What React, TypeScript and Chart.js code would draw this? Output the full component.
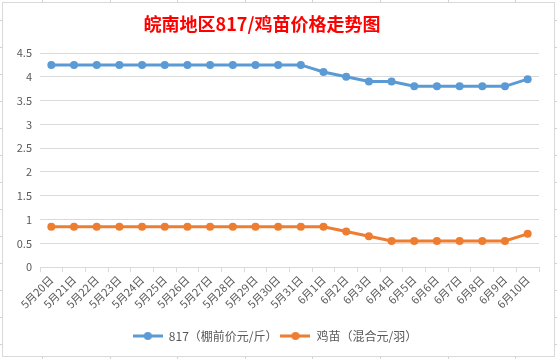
import React, { useEffect, useRef } from "react";
import { Chart, registerables } from "chart.js";

Chart.register(...registerables);

const titleText = "皖南地区817/鸡苗价格走势图";
const categories = [
  "5月20日", "5月21日", "5月22日", "5月23日", "5月24日", "5月25日", "5月26日",
  "5月27日", "5月28日", "5月29日", "5月30日", "5月31日", "6月1日", "6月2日",
  "6月3日", "6月4日", "6月5日", "6月6日", "6月7日", "6月8日", "6月9日", "6月10日",
];
const series817Label = "817（棚前价元/斤）";
const series817 = [
  4.25, 4.25, 4.25, 4.25, 4.25, 4.25, 4.25, 4.25, 4.25, 4.25, 4.25, 4.25,
  4.1, 4.0, 3.9, 3.9, 3.8, 3.8, 3.8, 3.8, 3.8, 3.95,
];
const chickLabel = "鸡苗（混合元/羽）";
const chickPrice = [
  0.85, 0.85, 0.85, 0.85, 0.85, 0.85, 0.85, 0.85, 0.85, 0.85, 0.85, 0.85, 0.85,
  0.75, 0.65, 0.55, 0.55, 0.55, 0.55, 0.55, 0.55, 0.7,
];
const yMin = 0;
const yMax = 4.5;
const yStep = 0.5;

const BLUE = "#5B9BD5";
const ORANGE = "#ED7D31";
const TEXT = "#595959";
const GRID = "#D9D9D9";
const FONT = "'Noto Sans CJK SC', 'Noto Sans', sans-serif";

function makeLegendIcon(color: string) {
  const c = document.createElement("canvas");
  c.width = 30;
  c.height = 10;
  const ctx = c.getContext("2d")!;
  ctx.strokeStyle = color;
  ctx.lineWidth = 3;
  ctx.beginPath();
  ctx.moveTo(0, 5);
  ctx.lineTo(30, 5);
  ctx.stroke();
  ctx.fillStyle = color;
  ctx.beginPath();
  ctx.arc(15, 5, 4, 0, Math.PI * 2);
  ctx.fill();
  return c;
}

const titlePlugin = {
  id: "customTitle",
  afterDraw(chart: any) {
    const ctx = chart.ctx;
    ctx.save();
    ctx.font = `bold 18px ${FONT}`;
    ctx.fillStyle = "#FF0000";
    ctx.textAlign = "center";
    ctx.textBaseline = "middle";
    ctx.fillText(titleText, 259, 21);
    ctx.restore();
  },
};

export default function App() {
  const ref = useRef<HTMLCanvasElement | null>(null);

  useEffect(() => {
    if (!ref.current) return;
    const icons = [makeLegendIcon(BLUE), makeLegendIcon(ORANGE)];
    const chart = new Chart(ref.current, {
      type: "line",
      data: {
        labels: categories,
        datasets: [
          {
            label: series817Label,
            data: series817,
            borderColor: BLUE,
            backgroundColor: BLUE,
            borderWidth: 3,
            pointRadius: 4,
            pointHoverRadius: 4,
            pointBorderWidth: 0,
            pointBackgroundColor: BLUE,
            tension: 0,
          },
          {
            label: chickLabel,
            data: chickPrice,
            borderColor: ORANGE,
            backgroundColor: ORANGE,
            borderWidth: 3,
            pointRadius: 4,
            pointHoverRadius: 4,
            pointBorderWidth: 0,
            pointBackgroundColor: ORANGE,
            tension: 0,
          },
        ],
      },
      options: {
        animation: false,
        responsive: false,
        maintainAspectRatio: false,
        layout: { padding: { left: 8, right: 15, top: 50, bottom: 4 } },
        plugins: {
          title: { display: false },
          tooltip: { enabled: false },
          legend: {
            position: "bottom",
            labels: {
              usePointStyle: true,
              pointStyleWidth: 30,
              boxHeight: 10,
              padding: 3,
              color: TEXT,
              font: { family: FONT, size: 12 },
              generateLabels: (ch: any) =>
                ch.data.datasets.map((ds: any, i: number) => ({
                  text: ds.label,
                  fillStyle: ds.borderColor,
                  strokeStyle: ds.borderColor,
                  lineWidth: 0,
                  pointStyle: icons[i],
                  hidden: false,
                  datasetIndex: i,
                  fontColor: TEXT,
                })),
            },
          },
        },
        scales: {
          x: {
            offset: true,
            afterFit: (scale: any) => {
              scale.height += 15;
            },
            grid: {
              display: true,
              drawOnChartArea: false,
              drawTicks: true,
              tickLength: 5,
              color: GRID,
              offset: true,
            },
            border: { display: true, color: GRID, width: 1 },
            ticks: {
              color: TEXT,
              font: { family: FONT, size: 11 },
              minRotation: 45,
              maxRotation: 45,
              autoSkip: false,
              padding: 1,
            },
          },
          y: {
            min: yMin,
            max: yMax,
            afterFit: (scale: any) => {
              scale.width = 29;
            },
            ticks: {
              stepSize: yStep,
              color: TEXT,
              font: { family: FONT, size: 11 },
              padding: 8,
              callback: (v: any) => String(v),
            },
            grid: { color: GRID, drawTicks: false },
            border: { display: false },
          },
        },
      },
      plugins: [titlePlugin],
    } as any);
    return () => chart.destroy();
  }, []);

  return (
    <div
      style={{
        position: "fixed",
        left: 0,
        top: 0,
        width: 557,
        height: 359,
        background: "#fff",
        backgroundImage:
          "repeating-linear-gradient(to right, transparent 0, transparent 42px, #d4d4d4 42px, #d4d4d4 43px, transparent 43px, transparent 67.6px), repeating-linear-gradient(to bottom, transparent 0, transparent 20px, #d4d4d4 20px, #d4d4d4 21px, transparent 21px, transparent 27px)",
      }}
    >
      <div
        style={{
          position: "absolute",
          left: 2,
          top: 2,
          width: 551,
          height: 353,
          border: "1px solid #d9d9d9",
          background: "#fff",
        }}
      >
        <canvas ref={ref} width={551} height={353} style={{ display: "block" }} />
      </div>
    </div>
  );
}
